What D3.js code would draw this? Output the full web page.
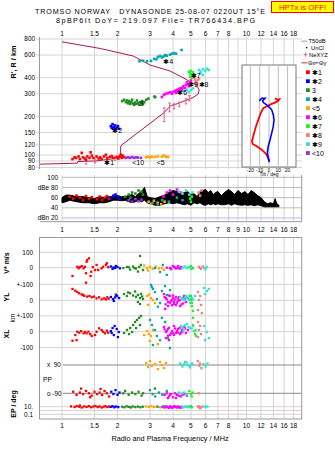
<!DOCTYPE html>
<html><head><meta charset="utf-8">
<script src="https://cdn.jsdelivr.net/npm/d3@7"></script>
<style>
body{margin:0;background:#fff}
svg{display:block}
text{font-family:"Liberation Sans",Arial,sans-serif;fill:#000}
</style></head>
<body><svg id="c" width="335" height="451"></svg>
<script>
// ---------- DATA ----------
const classNames = ["✱1","✱2","3","✱4","<5","✱6","✱7","✱8","✱9","<10"];
const classColors = ["#ff0000","#0000ff","#228b22","#00a8a8","#ffa500","#ff00ff","#22ee22","#f08080","#38e0d0","#9a30d8"];
const freqTicksTop = [1,1.5,2,3,4,5,6,7,8,10,12,14,16,18];
const freqTicksMid = [1,1.5,2,3,4,5,6,7,8,9,10,12,14,16,18];
const freqTicksBottom = [1,1.5,2,3,4,5,6,7,8,10,12,14,16,18];
const freqGrid = [1,1.5,2,3,4,5,6,7,8,9,10,12,14,16,18];
const heightTicks = [80,90,100,120,150,200,300,400,600,800];
const ampTicks = [100,80,60,40,20];
const tiltTicks = [-20,-10,0,10,20];

// virtual range echoes: [class, MHz, km]
const rangePts = [
[0,1.14,93],[0,1.19,95],[0,1.23,97.5],[0,1.25,93],[0,1.30,96],[0,1.33,94],[0,1.37,97.5],[0,1.41,95],[0,1.45,99],[0,1.28,104],[0,1.43,105],[0,1.48,95],[0,1.54,97.5],[0,1.61,96],[0,1.64,93],[0,1.69,97.5],[0,1.73,100.5],[0,1.76,95],[0,1.82,96.5],[0,1.90,95],[0,1.98,96.5],[0,2.05,97.5],[0,2.08,100.5],[0,2.13,99],[0,2.17,96.5],[0,2.11,95],[0,1.17,96],[0,1.35,92],[0,1.58,94],[0,1.86,98],[0,2.02,94],
[9,2.22,95],[9,2.28,96],[9,2.34,95],[9,2.40,96.5],[9,2.46,95],[9,2.52,96],[9,2.58,95.5],[9,2.68,95],
[4,2.86,96],[4,2.93,97],[4,3.0,96],[4,3.07,97],[4,3.19,96.5],[4,3.31,97.5],[4,3.48,97],[4,3.57,99],[4,3.66,97],[4,3.76,96.5],
[1,1.84,168],[1,1.88,174],[1,1.91,166],[1,1.94,170],[1,1.99,164],[1,1.89,160],[1,1.96,161],[1,2.01,168],[1,2.04,160],[1,1.86,163],
[2,2.12,263],[2,2.17,269],[2,2.22,258],[2,2.25,266],[2,2.28,253],[2,2.31,263],[2,2.34,250],[2,2.37,258],[2,2.40,269],[2,2.43,252],[2,2.46,246],[2,2.49,256],[2,2.52,250],[2,2.55,266],[2,2.58,253],[2,2.62,246],[2,2.65,258],[2,2.68,252],[2,2.72,263],[2,2.75,250],[2,2.79,258],[2,2.86,269],[2,2.94,275],[2,3.17,285],[2,3.2,282],
[3,2.63,537],[3,2.75,543],[3,2.89,537],[3,3.04,540],[3,3.16,560],[3,3.31,580],[3,3.40,590],[3,3.48,575],[3,3.62,600],[3,3.70,593],[3,3.85,605],[3,3.95,615],[3,4.05,621],[3,4.15,615],[3,4.45,657],[3,3.25,556],[3,3.55,585],
[5,3.48,283],[5,3.57,294],[5,3.66,300],[5,3.76,303],[5,3.85,308],[5,4.0,310],[5,4.10,316],[5,4.2,321],[5,4.15,305],[5,4.3,327],[5,4.4,332],[5,4.45,321],[5,4.55,343],[5,4.65,332],[5,4.70,351],[5,4.81,357],[5,4.87,343],[5,4.95,366],[5,5.0,380],[5,4.75,369],[5,3.95,300],[5,4.25,312],[5,4.5,330],
[6,4.87,445],[6,4.95,431],[6,5.0,452],[6,5.06,420],[6,5.13,440],[6,4.95,406],[6,5.06,400],
[7,5.2,400],[7,5.27,384],[7,5.33,372],[7,5.4,360],[7,5.46,384],[7,5.53,395],[7,5.40,344],[7,5.27,360],
[8,5.53,459],[8,5.67,445],[8,5.8,466],[8,5.97,452],[8,6.1,470],[8,6.25,459],[8,5.6,431],[8,5.8,420],[8,4.6,316],[8,4.75,323],[8,4.87,310],[8,5.0,321],[8,5.13,330]
];
// class annotations in the range panel: [label, MHz, km]
const rangeLabels = [["✱1",1.80,88],["✱2",1.99,155],["3",2.70,250],["✱4",3.77,533],["<5",3.43,87],["✱6",4.49,308],["✱7",5.31,415],["✱9",5.12,357],["✱8",5.85,357],["<10",2.59,88]];

// electron density profile (plasma frequency MHz, height km)
const neProfile = [[0.76,85],[1.21,86.4],[1.22,89],[1.53,90],[1.94,94],[2.08,96],[2.08,116],[2.11,120],[3.58,214],[3.85,241],[4.19,250],[4.65,265],[5.13,280],[5.48,299],[5.54,321],[5.40,342],[5.13,362],[4.53,400],[3.85,451],[3.0,502],[2.43,590],[1.61,675],[1.0,760]];
const neErrFreq = [3.58,3.83,4.05,4.32,4.7,4.9,1.35,1.51,1.94];
const neErrLo   = [182,217,229,238,250,264,85,87,91];
const neErrHi   = [233,254,250,258,274,290,92,93,97];

// tilt inset (deg, km)
const tiltX = [[-10.4,264],[-7.8,277],[-4.3,277],[-6.8,265],[-6.1,256],[-2.5,246],[0.3,236],[2.9,225],[4.6,206],[5.4,188],[4.6,167],[2.9,148],[1.1,131],[-0.8,117],[-1.8,104],[-0.8,95],[0.3,88]];
const tiltY = [[6.4,277],[8.9,269],[11.1,272],[10,264],[6.4,256],[2.9,250],[-1.8,241],[-6.1,232],[-8.9,212],[-11.5,188],[-14,167],[-16.1,148],[-18.3,128],[-17.5,122],[-13.2,117],[-7.8,110],[-3.2,102],[-0.8,95],[0.3,89]];

// amplitude: T50dB band [MHz, low dB, high dB]
const ampBand = [[1.0,50,60],[1.05,52,65],[1.1,55,65],[1.2,52,62],[1.3,50,62],[1.4,50,60],[1.5,48,58],[1.6,50,62],[1.7,50,60],[1.8,52,62],[1.9,55,62],[2.0,55,64],[2.1,54,62],[2.2,55,62],[2.3,52,64],[2.4,50,66],[2.5,52,62],[2.6,55,68],[2.7,52,72],[2.8,55,80],[2.9,50,62],[3.0,48,60],[3.2,45,58],[3.4,45,62],[3.6,48,65],[3.8,50,70],[4.0,48,74],[4.2,50,72],[4.4,48,68],[4.6,46,70],[4.8,48,72],[5.0,45,66],[5.2,50,68],[5.4,48,62],[5.6,50,72],[5.8,46,74],[6.0,45,76],[6.2,48,70],[6.4,46,74],[6.6,48,66],[6.8,46,70],[7.0,48,72],[7.3,46,64],[7.6,46,70],[8.0,48,76],[8.3,45,72],[8.6,48,66],[9.0,46,74],[9.4,45,68],[9.8,46,72],[10.2,45,66],[10.6,46,74],[11.0,44,70],[11.5,46,64],[12.0,44,60],[12.5,42,52],[13.0,42,48],[13.5,42,50],[14.0,42,48],[14.3,42,58],[14.6,42,48],[15.0,42,45]];
const ampPts = [
[0,1.1,62],[0,1.15,58],[0,1.2,64],[0,1.25,60],[0,1.3,55],[0,1.35,63],[0,1.4,58],[0,1.45,61],[0,1.55,57],[0,1.6,62],[0,1.65,55],[0,1.7,60],[0,1.75,63],[0,1.8,58],
[1,1.85,60],[1,1.9,64],[1,1.95,66],[1,2.0,62],[1,2.05,58],
[2,2.2,62],[2,2.3,66],[2,2.4,70],[2,2.5,68],[2,2.6,74],[2,2.7,72],[2,2.75,66],[2,2.35,60],
[9,2.3,55],[9,2.4,52],[9,2.5,57],[9,2.6,53],[9,2.7,56],
[4,2.95,52],[4,3.05,48],[4,3.15,54],[4,3.3,50],[4,3.45,47],[4,3.6,52],
[3,3.1,50],[3,3.3,47],[3,3.5,55],[3,3.8,52],[3,4.2,60],[3,4.5,55],
[5,3.55,62],[5,3.7,70],[5,3.85,74],[5,4.0,66],[5,4.2,76],[5,4.4,70],
[8,4.3,72],[8,4.5,68],[8,4.7,74],[8,4.9,66],[8,5.1,70],
[6,4.95,58],[6,5.05,62],[6,5.0,52],
[7,5.5,70],[7,5.6,64],[7,5.7,74]
];
// V* (m/s)
const vPts = [
[0,1.14,-54],[0,1.21,6],[0,1.23,-4],[0,1.25,3],[0,1.28,11],[0,1.31,-4],[0,1.33,6],[0,1.36,39],[0,1.37,50],[0,1.40,61],[0,1.43,-54],[0,1.35,-36],[0,1.47,3],[0,1.54,18],[0,1.57,-15],[0,1.64,-4],[0,1.67,6],[0,1.73,18],[0,1.75,29],[0,1.78,3],[0,1.51,-15],[0,1.44,-26],
[1,1.84,8],[1,1.90,1],[1,1.96,11],[1,2.06,-4],[1,1.88,-8],[1,1.94,-2],[1,2.0,5],
[2,2.15,-2],[2,2.25,5],[2,2.34,-12],[2,2.43,8],[2,2.52,-5],[2,2.62,5],[2,2.68,18],[2,2.75,-15],[2,2.65,76],[2,2.58,-25],[2,2.3,3],[2,2.47,-3],
[4,2.89,-2],[4,3.0,5],[4,3.10,-8],[4,3.22,8],[4,3.35,-5],[4,2.79,14],[4,2.93,-18],[4,3.48,-2],[4,3.57,-15],
[3,3.19,-2],[3,3.40,-28],[3,3.52,18],[3,3.70,-47],[3,3.9,-10],
[5,3.85,-2],[5,3.99,11],[5,4.15,-5],[5,4.26,11],[5,4.42,5],[5,4.08,2],[5,4.33,-6],[5,3.7,0],[5,3.9,-5],[5,4.05,5],[5,4.2,0],[5,4.35,-4],
[8,4.48,-5],[8,4.65,8],[8,4.81,1],[8,5.0,-8],[8,5.9,-2],[8,6.1,5],[8,6.0,-10],[8,4.55,3],[8,4.75,-3],[8,4.9,4],
[6,5.0,11],[6,5.13,-2],[6,5.05,-6],
[7,5.53,5],[7,5.67,-8],[7,5.8,8],[7,5.6,-2]
];
// YL (km)
const ylPts = [
[0,1.14,71],[0,1.18,60],[0,1.21,52],[0,1.24,44],[0,1.28,37],[0,1.30,33],[0,1.35,110],[0,1.37,23],[0,1.41,27],[0,1.45,19],[0,1.49,23],[0,1.54,12],[0,1.59,19],[0,1.64,6],[0,1.69,12],[0,1.73,6],[0,1.76,19],[0,1.79,10],[0,1.32,28],
[1,1.84,21],[1,1.89,8],[1,1.94,18],[1,1.99,27],[1,2.04,14],[1,1.91,-4],[1,1.96,35],
[2,2.17,39],[2,2.25,27],[2,2.34,44],[2,2.43,30],[2,2.52,21],[2,2.58,33],[2,2.65,14],[2,2.72,24],[2,2.58,-11],[2,2.65,-23],[2,2.75,8],[2,2.28,49],[2,2.49,55],[2,2.68,40],
[4,2.89,27],[4,2.96,36],[4,3.04,14],[4,3.11,2],[4,3.19,-17],[4,2.93,-29],
[3,3.04,96],[3,3.07,83],[3,3.19,52],[3,3.27,8],[3,3.40,-17],[3,3.48,58],[3,3.62,89],[3,3.70,33],[3,3.11,71],[3,3.85,64],[3,3.31,-40],
[5,3.57,39],[5,3.66,14],[5,3.76,-11],[5,3.85,27],[5,3.95,2],[5,4.05,-23],[5,4.15,21],[5,4.26,-4],[5,4.37,-36],[5,4.48,8],[5,4.59,27],[5,4.70,-11],[5,4.81,14],[5,3.76,-36],[5,3.62,-54],[5,3.85,-15],[5,4.10,5],[5,4.31,20],[5,4.53,-20],[5,4.0,30],[5,4.65,10],
[5,3.6,20],[5,3.7,5],[5,3.8,30],[5,3.9,-5],[5,4.0,15],[5,4.05,-10],[5,4.2,-15],[5,4.25,10],[5,4.35,0],[5,4.45,-25],[5,4.55,15],[5,3.65,-25],[5,3.95,-30],[5,4.15,-30],
[8,4.37,21],[8,4.53,8],[8,4.70,27],[8,4.87,2],[8,5.06,14],[8,5.27,27],[8,4.95,-17],[8,5.89,77],[8,6.1,58],[8,5.97,39],[8,6.25,71],[8,4.65,18],
[8,4.45,10],[8,4.6,0],[8,4.75,15],[8,4.85,20],[8,5.0,10],[8,5.15,5],[8,4.9,30],
[6,5.0,27],[6,5.0,2],[6,5.06,-36],[6,5.13,-67],[6,5.06,-15],
[7,5.46,52],[7,5.61,27],[7,5.53,2],[7,5.67,-29],[7,5.46,-61],[7,5.73,-80]
];
// XL (km)
const xlPts = [
[0,1.14,-57],[0,1.18,-21],[0,1.21,0],[0,1.24,-6],[0,1.27,4],[0,1.31,-10],[0,1.33,-2],[0,1.36,-10],[0,1.39,0],[0,1.42,-15],[0,1.20,-53],[0,1.45,-27],[0,1.59,21],[0,1.64,11],[0,1.67,0],[0,1.71,-10],[0,1.75,6],[0,1.78,-6],[0,1.54,0],[0,1.51,-21],
[1,1.84,4],[1,1.88,23],[1,1.93,36],[1,1.98,17],[1,2.03,-2],[1,1.91,-21],[1,1.86,-8],[1,2.01,-34],
[2,2.17,-8],[2,2.25,11],[2,2.34,23],[2,2.43,42],[2,2.49,61],[2,2.55,74],[2,2.62,87],[2,2.68,99],[2,2.40,-2],[2,2.52,23],[2,2.31,-15],[2,2.65,42],
[4,2.89,4],[4,2.96,-15],[4,3.04,-27],[4,3.0,-59],[4,3.11,11],[4,3.31,-78],[4,2.79,-21],
[3,3.0,74],[3,3.07,42],[3,3.19,11],[3,3.27,-27],[3,3.40,-53],[3,3.11,-84],[3,3.48,87],[3,3.62,61],[3,3.76,-40],[3,3.85,-103],
[5,3.57,30],[5,3.66,-2],[5,3.76,17],[5,3.85,-21],[5,3.95,4],[5,4.05,36],[5,4.15,-8],[5,4.26,17],[5,4.37,-15],[5,4.48,11],[5,4.59,30],[5,4.70,-8],[5,4.81,11],[5,3.66,-40],[5,3.80,-53],[5,4.0,-10],[5,4.2,5],[5,4.42,-5],
[5,3.6,15],[5,3.7,5],[5,3.8,25],[5,3.9,-10],[5,4.1,20],[5,4.25,-5],[5,4.35,25],[5,4.5,0],[5,4.65,20],[5,3.75,-25],[5,4.05,-20],
[8,4.42,36],[8,4.59,17],[8,4.75,49],[8,4.95,23],[8,5.13,36],[8,5.33,11],[8,5.89,36],[8,6.1,-2],[8,6.25,-40],[8,5.97,-53],
[8,4.5,25],[8,4.65,40],[8,4.85,30],[8,5.05,20],[8,4.55,5],
[6,5.13,87],[6,5.13,42],[6,5.2,4],[6,5.27,-15],[6,5.33,-27],
[7,5.46,61],[7,5.61,36],[7,5.53,11],[7,5.67,-15],[7,5.46,-34]
];
// PP (deg)
const ppPts = [
[4,2.86,103],[4,2.93,77],[4,3.0,115],[4,3.07,84],[4,3.19,96],[4,3.31,64],[4,3.40,109],[4,3.48,90],[4,3.57,71],[4,3.66,103],
[8,4.37,100],[8,4.5,80],[8,4.65,110],[8,4.8,90],[8,4.95,75],[8,5.1,95],[8,4.45,90],[8,4.6,95],[8,4.75,105],[8,4.9,85],[8,5.05,100],
[7,5.45,115],[7,5.55,85],[7,5.6,100],[7,5.7,70],[8,5.85,95],[8,6.0,80],[8,6.15,100],
[0,1.15,-80],[0,1.2,-100],[0,1.25,-85],[0,1.3,-95],[0,1.35,-75],[0,1.4,-90],[0,1.45,-105],[0,1.5,-80],[0,1.55,-95],[0,1.6,-85],[0,1.65,-100],[0,1.7,-75],[0,1.75,-90],[0,1.8,-110],[0,1.27,-60],[0,1.62,-62],[0,1.42,-115],
[1,1.85,-80],[1,1.9,-95],[1,1.95,-70],[1,2.0,-100],[1,2.05,-85],
[2,2.15,-90],[2,2.2,-75],[2,2.3,-100],[2,2.4,-85],[2,2.5,-95],[2,2.6,-80],[2,2.7,-105],[2,2.75,-90],[2,3.19,-60],
[3,3.0,-70],[3,3.1,-95],[3,3.2,-110],[3,3.35,-85],[3,3.5,-100],[3,3.7,-75],
[5,3.6,-100],[5,3.8,-110],[5,3.9,-95],[5,4.0,-115],[5,4.2,-100],[5,4.4,-110],[5,4.6,-95],[5,4.75,-105],[5,3.7,-90],[5,3.85,-100],[5,4.1,-90],[5,4.3,-105],[5,4.5,-100],[5,3.75,-120],[5,4.15,-120],
[8,4.3,-85],[8,4.5,-90],[8,4.6,-85],[8,4.7,-100],
[6,4.9,-75],[6,5.0,-95],[6,5.1,-85],[6,5.05,-110],
[7,5.5,-90]
];
// EP (deg, log)
const epPts = [
[0,1.12,12],[0,1.17,8],[0,1.2,15],[0,1.24,10],[0,1.28,6],[0,1.32,12],[0,1.36,9],[0,1.40,14],[0,1.44,7],[0,1.48,11],[0,1.52,16],[0,1.56,8],[0,1.6,12],[0,1.64,6],[0,1.68,10],[0,1.72,14],[0,1.76,8],[0,1.8,11],[0,1.25,20],
[1,1.84,9],[1,1.88,13],[1,1.92,7],[1,1.96,11],[1,2.02,8],
[2,2.12,10],[2,2.18,7],[2,2.24,13],[2,2.3,9],[2,2.36,6],[2,2.42,12],[2,2.5,8],[2,2.58,11],[2,2.66,7],[2,2.74,10],
[4,2.85,12],[4,2.95,9],[4,3.05,14],[4,3.15,8],[4,3.25,11],[4,3.4,7],
[5,3.5,8],[5,3.6,6],[5,3.7,10],[5,3.8,5],[5,3.9,9],[5,4.0,7],[5,4.1,11],[5,4.2,6],[5,4.3,9],[5,4.4,5],
[5,3.55,10],[5,3.65,12],[5,3.75,7],[5,3.85,12],[5,3.95,5],[5,4.05,13],[5,4.15,8],[5,4.25,12],[5,4.35,6],[5,4.45,10],
[3,3.3,10],[3,3.55,14],
[8,4.5,9],[8,4.65,12],[8,4.8,7],[8,4.95,10],[8,5.85,12],[8,6.0,9],[8,6.15,11],[8,4.55,6],[8,4.7,10],[8,4.85,13],[8,5.05,7],
[6,5.0,14],[6,5.05,8],
[7,5.45,10],[7,5.55,7],[7,5.6,4],[7,5.7,9],[7,5.5,14],[7,5.65,5]
];

// ---------- DRAWING ----------
const svg = d3.select("#c");
const X0 = 40, X1 = 302;
const x = d3.scaleLog().domain([0.76, 20]).range([X0, X1]);
const yH = d3.scaleLog().domain([80, 800]).range([167.5, 39]);
const yAmp = d3.scaleLinear().domain([20, 100]).range([218, 177.3]);
const yV = d3.scaleLinear().domain([0, 100]).range([267.7, 252.3]);
const yYL = d3.scaleLinear().domain([0, 100]).range([300.3, 284.3]);
const yXL = d3.scaleLinear().domain([0, 100]).range([331.7, 315.8]);
const yPP = d3.scaleLinear().domain([-90, 90]).range([393.3, 365]);
const yEP = d3.scaleLog().domain([0.1, 10]).range([414.3, 406.7]);
const tilt = d3.scaleLinear().domain([-29, 29]).range([242, 296]);

const G = "#d4d4d4";
function hline(y, xa, xb, c, w) { svg.append("line").attr("x1", xa).attr("x2", xb).attr("y1", y).attr("y2", y).attr("stroke", c).attr("stroke-width", w || 1); }
function vline(xx, ya, yb, c, w) { svg.append("line").attr("x1", xx).attr("x2", xx).attr("y1", ya).attr("y2", yb).attr("stroke", c).attr("stroke-width", w || 1); }
function txt(xx, yy, s, size, anchor, opts) {
  const t = svg.append("text").attr("x", xx).attr("y", yy).attr("font-size", size).attr("text-anchor", anchor || "start").text(s);
  if (opts) for (const k in opts) t.attr(k, opts[k]);
  return t;
}

// header
txt(35, 14.3, "TROMSO NORWAY   DYNASONDE 25-08-07 0220UT 15°E", 7.2, "start", {"font-family": "DejaVu Sans Mono", "style": "white-space:pre", "textLength": 230, "lengthAdjust": "spacing"});
txt(56, 23, "8pBP6It DoY= 219.097 File= TR766434.BPG", 7.2, "start", {"font-family": "DejaVu Sans Mono", "textLength": 199, "lengthAdjust": "spacing"});
svg.append("rect").attr("x", 271.5).attr("y", 1.5).attr("width", 62).attr("height", 11).attr("fill", "#ffff00").attr("stroke", "#ff0000");
txt(302.5, 10.2, "HPTx is OFF!", 7.8, "middle", {"font-family": "DejaVu Sans Mono"}).style("fill", "#ff0000");

// ===== Top panel grid =====
freqGrid.forEach(f => vline(x(f), 37, 169, G));
heightTicks.forEach(h => hline(yH(h), 36, X1, G));
vline(39.5, 37, 169, "#999");
freqTicksTop.forEach(f => txt(x(f), 36, String(f), 6.6, "middle"));
heightTicks.forEach(h => txt(35, yH(h) + 2.3, String(h), 6.4, "end"));
txt(0, 0, "R', R / km", 7.3, "middle", {"transform": "translate(16,62) rotate(-90)", "font-weight": "bold"});

// Ne profile
const pl = d3.line().x(d => x(d[0])).y(d => yH(d[1]));
svg.append("path").attr("d", pl(neProfile)).attr("fill", "none").attr("stroke", "#a8184a").attr("stroke-width", 1);
svg.append("path").attr("d", pl(neProfile.slice(8, 13))).attr("fill", "none").attr("stroke", "#e0608c").attr("stroke-width", 1);
neErrFreq.forEach((f, i) => {
  const xx = x(f);
  vline(xx, yH(neErrLo[i]), yH(neErrHi[i]), "#e0608c", 1);
  hline(yH(neErrLo[i]), xx - 1.3, xx + 1.3, "#e0608c", 1);
  hline(yH(neErrHi[i]), xx - 1.3, xx + 1.3, "#e0608c", 1);
});

function drawPts(data, ys, s) {
  svg.append("g").selectAll("rect").data(data).join("rect")
    .attr("x", d => x(d[1]) - s / 2).attr("y", d => ys(d[2]) - s / 2)
    .attr("width", s).attr("height", s).attr("fill", d => classColors[d[0]]);
}
drawPts(rangePts, yH, 2.6);
rangeLabels.forEach(d => txt(x(d[1]), yH(d[2]) + 2.5, d[0], 7, "middle", {"font-family": "DejaVu Sans"}));

// Tilt inset
svg.append("rect").attr("x", 242).attr("y", 65).attr("width", 54).attr("height", 102).attr("fill", "#fff").attr("stroke", "#777");
tiltTicks.forEach(t => vline(tilt(t), 65, 167, "#bbb"));
const tl = d3.line().x(d => tilt(d[0])).y(d => yH(d[1]));
svg.append("path").attr("d", tl(tiltY)).attr("fill", "none").attr("stroke", "#ff0000").attr("stroke-width", 1.8);
svg.append("path").attr("d", tl(tiltX)).attr("fill", "none").attr("stroke", "#0000ff").attr("stroke-width", 1.6);
tiltTicks.forEach(t => txt(tilt(t), 171.5, String(t), 5, "middle"));
txt(269, 176, "Tilt / deg", 5, "middle");

// Legend
hline(41.2, 301.5, 307, "#999", 1); txt(308.5, 43.2, "T50dB", 5.8);
svg.append("rect").attr("x", 306).attr("y", 47).attr("width", 1.3).attr("height", 1.3).attr("fill", "#000"); txt(311, 49.8, "UnCl", 5.8);
hline(54.6, 303.5, 307.5, "#e0608c"); vline(305.5, 52.6, 56.6, "#e0608c"); txt(309, 56.7, "NeXYZ", 5.8);
hline(62.8, 301.5, 307.5, "#e05050", 1.2); txt(308, 64.9, "Θx", 5.8);
hline(62.8, 315, 318.5, "#5050e0", 1.2); txt(319, 64.9, "Θy", 5.8);
classNames.forEach((n, i) => {
  const yy = 72.3 + i * 8.98;
  svg.append("rect").attr("x", 306).attr("y", yy - 2).attr("width", 3.8).attr("height", 3.8).attr("fill", classColors[i]);
  txt(312, yy + 2.4, n, 7, "start", {"font-family": "DejaVu Sans"});
});

// ===== Amplitude panel =====
freqGrid.forEach(f => vline(x(f), 175, 221.7, G));
ampTicks.forEach(a => hline(yAmp(a), 62, X1, a === 20 ? "#b8b8f0" : "#bbb"));
hline(221.7, X0, X1, "#999");
vline(301.7, 175, 221.7, "#999");
txt(58, yAmp(100) + 2.3, "100", 6.4, "end");
txt(58, yAmp(80) + 2.3, "dBe 80", 6.4, "end");
txt(58, yAmp(60) + 2.3, "60", 6.4, "end");
txt(58, yAmp(40) + 2.3, "40", 6.4, "end");
txt(58, yAmp(20) + 2.3, "dBn 20", 6.4, "end");
const ab = d3.area().x(d => x(d[0])).y0(d => yAmp(d[1])).y1(d => yAmp(d[2]));
svg.append("path").attr("d", ab(ampBand)).attr("fill", "#000").attr("stroke", "#000").attr("stroke-width", 1);
drawPts(ampPts, yAmp, 2.6);
freqTicksMid.forEach(f => txt(x(f), 231.8, String(f), 6.6, "middle"));

// ===== Lower panel =====
freqGrid.forEach(f => vline(x(f), 237.5, 419, G));
[[yV, 100], [yV, 0], [yYL, 100], [yYL, 0], [yXL, 100], [yXL, 0], [yXL, -100]].forEach(d => hline(d[0](d[1]), X0, X1, "#d8d0d4"));
[10, 1, 0.1].forEach(v => hline(yEP(v), X0, X1, "#d8d0d4"));
hline(yPP(90), 63, X1, "#888"); hline(yPP(-90), 63, X1, "#888");
svg.append("rect").attr("x", 39.5).attr("y", 237.5).attr("width", 262.2).attr("height", 181.5).attr("fill", "none").attr("stroke", "#999");

txt(33, yV(100) + 2.3, "100", 6.4, "end");
txt(33, yV(0) + 2.3, "0", 6.4, "end");
txt(33, yYL(100) + 2.3, "+-100", 6.4, "end");
txt(33, yYL(0) + 2.3, "0", 6.4, "end");
txt(33, yXL(100) + 2.3, "+-100", 6.4, "end");
txt(33, yXL(0) + 2.3, "0", 6.4, "end");
txt(33, yXL(-100) + 2.3, "-100", 6.4, "end");
txt(47, yPP(90) + 2.3, "x  90", 6.4, "start", {"style": "white-space:pre"});
txt(43, 381.5, "PP", 6.6, "start");
txt(47, yPP(-90) + 2.3, "o -90", 6.4, "start");
txt(33, yEP(10) + 2, "10.", 6.4, "end");
txt(33, yEP(0.1) + 2.3, "0.1", 6.4, "end");
txt(0, 0, "V* m/s", 7, "middle", {"transform": "translate(9,263) rotate(-90)", "font-weight": "bold"});
txt(0, 0, "YL", 7, "middle", {"transform": "translate(9,297) rotate(-90)", "font-weight": "bold"});
txt(0, 0, "km", 6.6, "middle", {"transform": "translate(15,318) rotate(-90)"});
txt(0, 0, "XL", 7, "middle", {"transform": "translate(9,334) rotate(-90)", "font-weight": "bold"});
txt(0, 0, "EP / deg", 7, "middle", {"transform": "translate(16,404) rotate(-90)", "font-weight": "bold"});

drawPts(vPts, yV, 2.3);
drawPts(ylPts, yYL, 2.3);
drawPts(xlPts, yXL, 2.3);
drawPts(ppPts, yPP, 2.3);
drawPts(epPts, yEP, 2.3);

freqTicksBottom.forEach(f => txt(x(f), 427.5, String(f), 6.6, "middle"));
txt(170, 441, "Radio and Plasma Frequency / MHz", 7.3, "middle");
</script></body></html>
